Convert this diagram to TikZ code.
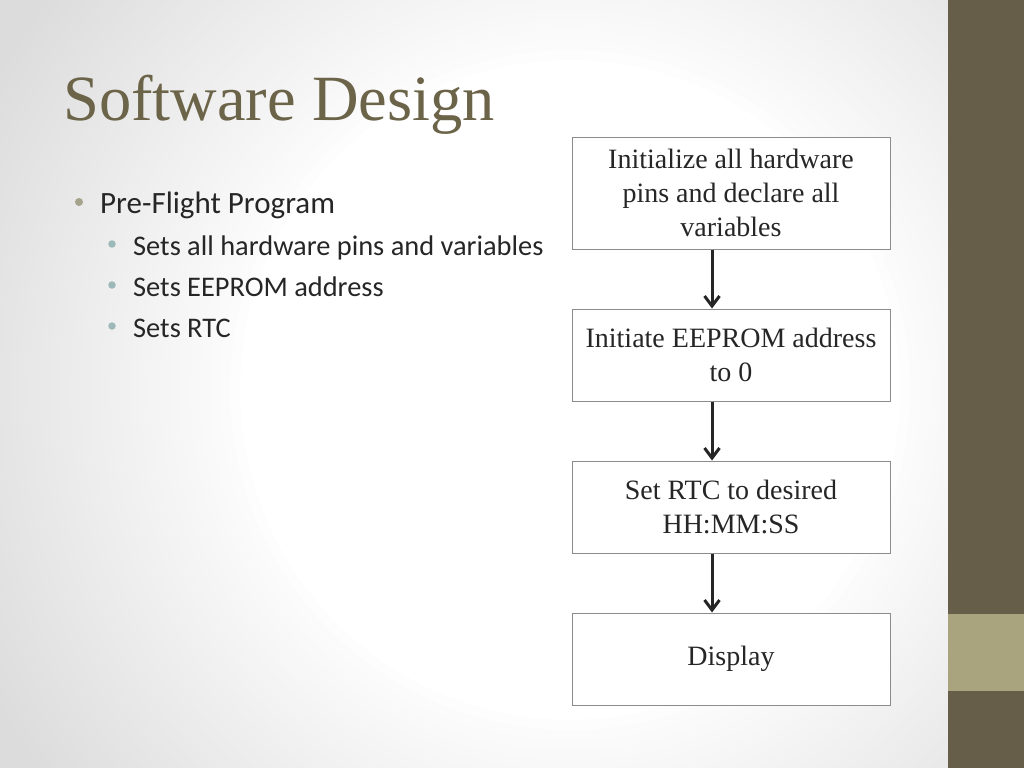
\documentclass[tikz,border=0pt]{standalone}
\usepackage{fontspec}
\setmainfont{Liberation Serif}
\newfontfamily\bulletfont{Carlito}
\usetikzlibrary{positioning,arrows.meta}

\definecolor{titlecol}{HTML}{6B6449}
\definecolor{bardark}{HTML}{665E48}
\definecolor{barlight}{HTML}{A9A47D}
\definecolor{bgedge}{HTML}{DCDCDC}
\definecolor{textcol}{HTML}{262626}
\definecolor{dotmain}{HTML}{A5A38C}
\definecolor{dotsub}{HTML}{9DB8B8}

\tikzset{
  stepbox/.style={draw=gray!90,line width=1pt,fill=white,minimum width=318pt,minimum height=92pt,
    inner sep=2pt,align=center,text=textcol,font=\fontsize{28}{34}\selectfont},
  arr/.style={-{Straight Barb[length=10pt,width=15pt,line width=3pt]},line width=3pt,draw=textcol},
  bul/.style={anchor=base west,inner sep=0pt,text=textcol,font=\bulletfont\fontsize{31}{37}\selectfont},
  subbul/.style={anchor=base west,inner sep=0pt,text=textcol,font=\bulletfont\fontsize{28.4}{34}\selectfont}
}

\begin{document}
\begin{tikzpicture}[x=1pt,y=-1pt,node distance=59pt]
  \useasboundingbox (0,0) rectangle (1024,768);
  % background
  \begin{scope}
    \clip (0,0) rectangle (948,768);
    \fill[bgedge] (0,0) rectangle (948,768);
    \foreach \r [count=\i, evaluate=\i as \op using 1/(41-\i)] in {720,710,...,330}
      \fill[white,opacity=\op] (570,390) circle (\r);
  \end{scope}
  \fill[bardark] (948,0) rectangle (1024,768);
  \fill[barlight] (948,614) rectangle (1024,691);

  % title and bullets
  \node[anchor=base west,inner sep=0pt,text=titlecol,font=\fontsize{64.5}{77}\selectfont] (title) at (63,120) {Software Design};
  \node[circle,fill=dotmain,inner sep=0pt,minimum size=8pt] (dot0) at (79,202) {};
  \node[bul] (main) at (100,213) {Pre-Flight Program};
  \foreach \t [count=\j from 1] in {Sets all hardware pins and variables,Sets EEPROM address,Sets RTC} {
    \node[circle,fill=dotsub,inner sep=0pt,minimum size=7.5pt] (dot\j) at (112,203+41*\j) {};
    \node[subbul] (sub\j) at (133,214+41*\j) {\t};
  }

  % flow chart
  \node[stepbox,minimum height=112pt] (init) at (731,193) {Initialize all hardware\\pins and declare all\\variables};
  \node[stepbox,below=of init] (eeprom) {Initiate EEPROM address\\to 0};
  \node[stepbox,below=of eeprom] (rtc) {Set RTC to desired\\HH:MM:SS};
  \node[stepbox,below=of rtc] (disp) {Display};

  \draw[arr] ([xshift=-19pt]init.south) -- ([xshift=-19pt]eeprom.north);
  \draw[arr] ([xshift=-19pt]eeprom.south) -- ([xshift=-19pt]rtc.north);
  \draw[arr] ([xshift=-19pt]rtc.south) -- ([xshift=-19pt]disp.north);
\end{tikzpicture}
\end{document}
